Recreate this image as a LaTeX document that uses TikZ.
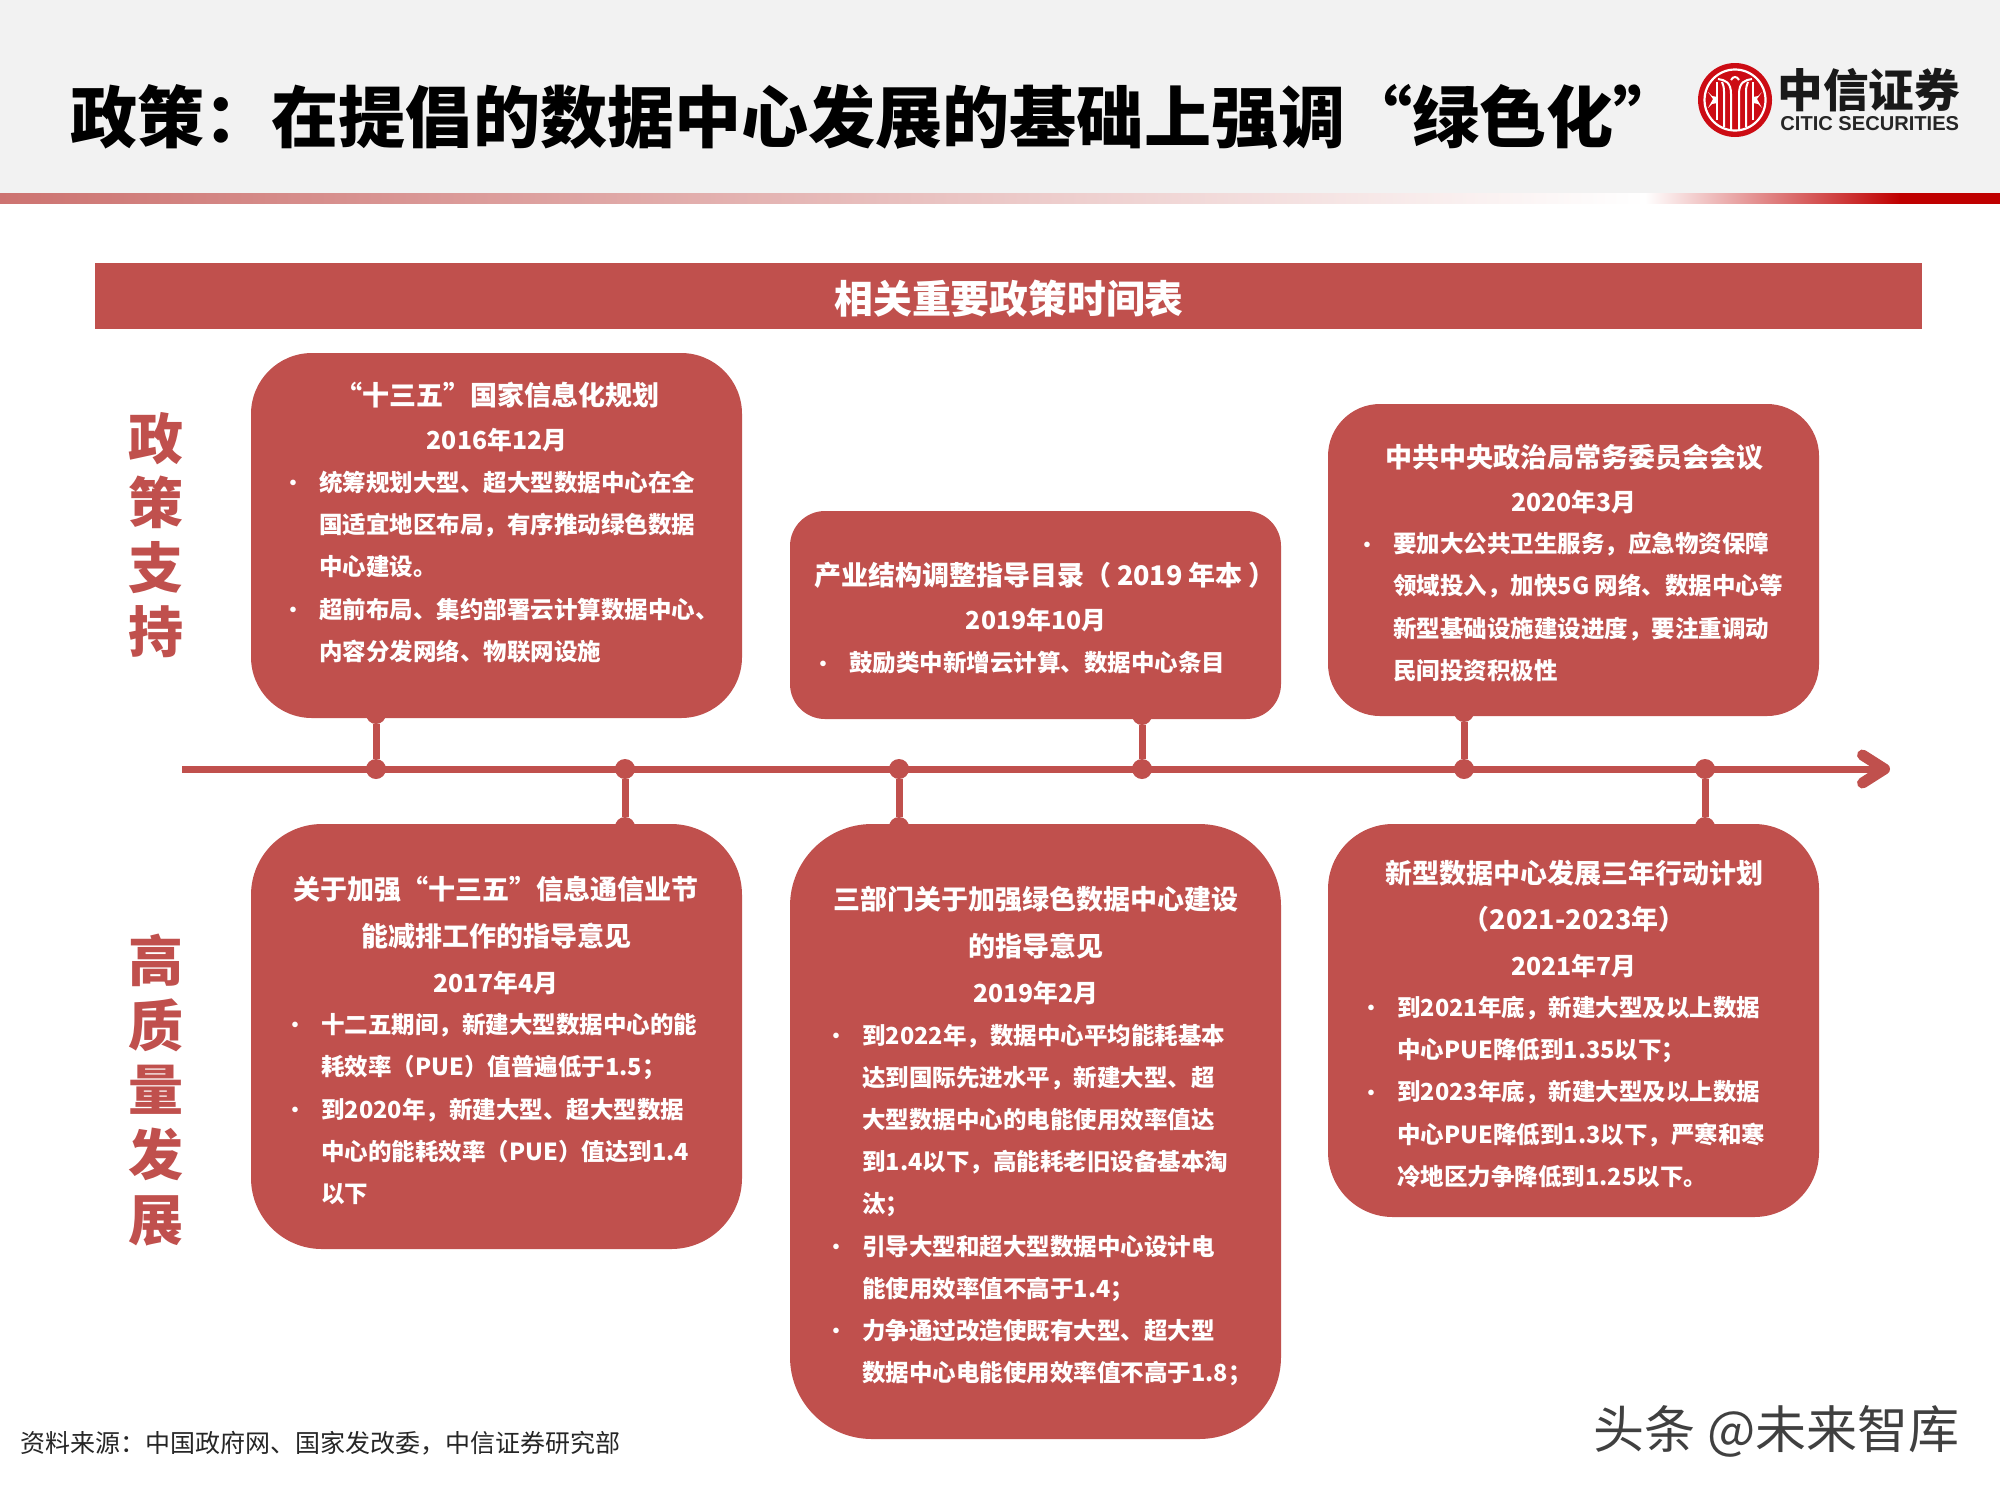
\documentclass[tikz,border=0pt]{standalone}
\usepackage{fontspec}
\setmainfont{Noto Sans CJK SC}
\newfontfamily\latinlogo{Liberation Sans}
\usetikzlibrary{arrows.meta,shapes.misc}
\definecolor{brick}{HTML}{C0504D}
\definecolor{logored}{HTML}{CC0C14}
\definecolor{greyband}{HTML}{F2F2F2}
\newcommand{\bu}{\makebox[14pt][l]{\hspace*{-4pt}\raisebox{0.3pt}{\scalebox{0.85}{•}}}}
\newcommand{\cn}{\hspace*{14pt}}
\newcommand{\dt}[1]{{\fontsize{12.4}{12}\selectfont #1}}
\newcommand{\fc}{\symbol{"FF0C}}
\newcommand{\fk}{\symbol{"FF1A}}
\newcommand{\fs}{\symbol{"FF1B}}
\newcommand{\fl}{\symbol{"FF08}}
\newcommand{\fr}{\symbol{"FF09}}
\tikzset{
  x=0.5pt,y=-0.5pt,
  card/.style={fill=brick,draw=none,inner sep=0pt,rectangle},
  dot/.style={circle,fill=brick,draw=none,inner sep=0pt,minimum size=10pt},
  stem/.style={draw=brick,line width=3.5pt},
  axisline/.style={draw=brick,line width=3.5pt,-{Straight Barb[length=11pt,width=14pt,line width=5.5pt,round]}},
  head/.style={text=white,align=center,font=\bfseries\fontsize{13.5}{#1}\selectfont,inner sep=0pt},
  body/.style={text=white,align=left,anchor=west,font=\bfseries\fontsize{11.75}{21.1}\selectfont,inner sep=0pt},
  sidelabel/.style={text=brick,align=center,font=\bfseries\fontsize{27.5}{32.3}\selectfont,inner sep=0pt},
  logoline/.style={draw=white,line width=1pt}
}
\begin{document}
\begin{tikzpicture}
\useasboundingbox (0,0) rectangle (2000,1500);
\fill[white] (0,0) rectangle (2000,1500);
% top band
\fill[greyband] (0,0) rectangle (2000,193);
\shade[left color=brick!80!white,right color=white] (0,193) rectangle (1645,203);
\shade[left color=white,right color=red!75!black] (1645,193) rectangle (1900,203);
\shade[left color=red!75!black,right color=red!75!black] (1899,193) rectangle (2000,203);
\node[anchor=west,inner sep=0pt,font=\bfseries\fontsize{33.55}{36}\selectfont,text=black] (title) at (70,117) {政策\fk{}在提倡的数据中心发展的基础上强调“绿色化”};
% logo
\node[circle,fill=logored,draw=none,minimum size=37pt,inner sep=0pt] (logo) at (1735,100) {};
\draw[draw=white,line width=1.1pt] (logo) circle (30.5);
\begin{scope}[shift={(1735,100)}]
  \draw[logoline] (-4,29) -- (-4,-6) .. controls (-4,-18) and (-10,-20) .. (-17,-21);
  \draw[logoline] (4,29) -- (4,-6) .. controls (4,-18) and (10,-20) .. (17,-21);
  \draw[logoline] (-11,27) -- (-11,-8) .. controls (-11,-13) and (-12,-16) .. (-13,-18);
  \draw[logoline] (11,27) -- (11,-8) .. controls (11,-13) and (12,-16) .. (13,-18);
  \draw[logoline] (-4,-20) .. controls (-2,-24) and (2,-24) .. (4,-20);
  \draw[logoline] (-18,20) -- (-18,-18);
  \draw[logoline] (18,20) -- (18,-18);
  \fill[white] (-27,-8) -- (-22,-1) -- (-27,8) -- (-23,4) -- (-18,3) -- (-18,-3) -- (-23,-4) -- cycle;
  \fill[white] (27,-8) -- (22,-1) -- (27,8) -- (23,4) -- (18,3) -- (18,-3) -- (23,-4) -- cycle;
\end{scope}
\node[anchor=west,inner sep=0pt,text=black!90,font=\bfseries\fontsize{22.8}{24}\selectfont] (logocn) at (1777,90) {中信证券};
\node[anchor=west,inner sep=0pt,text=black!85,font=\latinlogo\bfseries\fontsize{10.05}{12}\selectfont] (logoen) at (1780,124) {CITIC SECURITIES};
% banner
\node[card,minimum width=913.5pt,minimum height=33pt] (banner) at (1008.5,296) {};
\node[text=white,inner sep=0pt,font=\bfseries\fontsize{19.4}{22}\selectfont] (bannertext) at (1009,299) {相关重要政策时间表};
% side labels
\node[sidelabel] (sideup) at (156,535) {政\\策\\支\\持};
\node[sidelabel] (sidedown) at (156,1090) {高\\质\\量\\发\\展};
% timeline
\coordinate (axL) at (182,769);
\coordinate (axR) at (1890,769);
\draw[axisline] (axL) -- (axR);
% cards
\node[card,rounded corners=30.5pt,minimum width=245.5pt,minimum height=182.5pt] (cardA) at (496.5,535.5) {};
\node[card,rounded corners=17.5pt,minimum width=245.5pt,minimum height=104pt] (cardB) at (1035.5,615) {};
\node[card,rounded corners=26pt,minimum width=245.5pt,minimum height=156pt] (cardC) at (1573.5,560) {};
\node[card,rounded corners=35.5pt,minimum width=245.5pt,minimum height=212.5pt] (cardD) at (496.5,1036.5) {};
\node[card,rounded corners=41pt,minimum width=245.5pt,minimum height=307.5pt] (cardE) at (1035.5,1131.5) {};
\node[card,rounded corners=32.5pt,minimum width=245.5pt,minimum height=196.5pt] (cardF) at (1573.5,1020.5) {};
% dots and stems
\node[dot] (a1) at (376,769) {}; \node[dot] (a2) at (376,714) {};
\node[dot] (b1) at (625,769) {}; \node[dot] (b2) at (625,827) {};
\node[dot] (c1) at (899,769) {}; \node[dot] (c2) at (899,827) {};
\node[dot] (d1) at (1142,769) {}; \node[dot] (d2) at (1142,715) {};
\node[dot] (e1) at (1464,769) {}; \node[dot] (e2) at (1464,712) {};
\node[dot] (f1) at (1705,769) {}; \node[dot] (f2) at (1705,827) {};
\draw[stem] (a1) -- (a2);
\draw[stem] (b1) -- (b2);
\draw[stem] (c1) -- (c2);
\draw[stem] (d1) -- (d2);
\draw[stem] (e1) -- (e2);
\draw[stem] (f1) -- (f2);
% card A
\node[head=21.8pt] (headA) at (497,417) {“十三五”国家信息化规划\\\dt{2016年12月}};
\node[body] (bodyA) at (291,567) {\bu 统筹规划大型、超大型数据中心在全\\\cn 国适宜地区布局\fc{}有序推动绿色数据\\\cn 中心建设。\\\bu 超前布局、集约部署云计算数据中心、\\\cn 内容分发网络、物联网设施};
% card B
\node[head=22.4pt] (headB) at (1036,597) {\hspace*{9pt}产业结构调整指导目录\fl{}\hspace{3pt}2019 年本\hspace{3pt}\fr{}\\\dt{2019年10月}};
\node[body] (bodyB) at (821,663) {\bu 鼓励类中新增云计算、数据中心条目};
% card C
\node[head=22pt] (headC) at (1574,479) {中共中央政治局常务委员会会议\\\dt{2020年3月}};
\node[body] (bodyC) at (1365,607) {\bu 要加大公共卫生服务\fc{}应急物资保障\\\cn 领域投入\fc{}加快5G 网络、数据中心等\\\cn 新型基础设施建设进度\fc{}要注重调动\\\cn 民间投资积极性};
% card D
\node[head=23.2pt] (headD) at (496,935.5) {关于加强“十三五”信息通信业节\\能减排工作的指导意见\\\dt{2017年4月}};
\node[body] (bodyD) at (293,1109) {\bu 十二五期间\fc{}新建大型数据中心的能\\\cn 耗效率\fl{}PUE\fr{}值普遍低于1.5\fs{}\\\bu 到2020年\fc{}新建大型、超大型数据\\\cn 中心的能耗效率\fl{}PUE\fr{}值达到1.4\\\cn 以下};
% card E
\node[head=23.2pt] (headE) at (1036,945.5) {三部门关于加强绿色数据中心建设\\的指导意见\\\dt{2019年2月}};
\node[body] (bodyE) at (834,1205) {\bu 到2022年\fc{}数据中心平均能耗基本\\\cn 达到国际先进水平\fc{}新建大型、超\\\cn 大型数据中心的电能使用效率值达\\\cn 到1.4以下\fc{}高能耗老旧设备基本淘\\\cn 汰\fs{}\\\bu 引导大型和超大型数据中心设计电\\\cn 能使用效率值不高于1.4\fs{}\\\bu 力争通过改造使既有大型、超大型\\\cn 数据中心电能使用效率值不高于1.8\fs{}};
% card F
\node[head=23.2pt] (headF) at (1574,919) {新型数据中心发展三年行动计划\\\fl{}2021-2023年\fr{}\\\dt{2021年7月}};
\node[body] (bodyF) at (1369,1092) {\bu 到2021年底\fc{}新建大型及以上数据\\\cn 中心PUE降低到1.35以下\fs{}\\\bu 到2023年底\fc{}新建大型及以上数据\\\cn 中心PUE降低到1.3以下\fc{}严寒和寒\\\cn 冷地区力争降低到1.25以下。};
% footer
\node[anchor=west,inner sep=0pt,text=black!85,font=\fontsize{12.5}{14}\selectfont] (source) at (20,1443) {资料来源\fk{}中国政府网、国家发改委\fc{}中信证券研究部};
\node[anchor=east,inner sep=0pt,text=black!75,font=\fontsize{25.5}{27}\selectfont] (mark) at (1960,1431) {头条 @未来智库};
\end{tikzpicture}
\end{document}
